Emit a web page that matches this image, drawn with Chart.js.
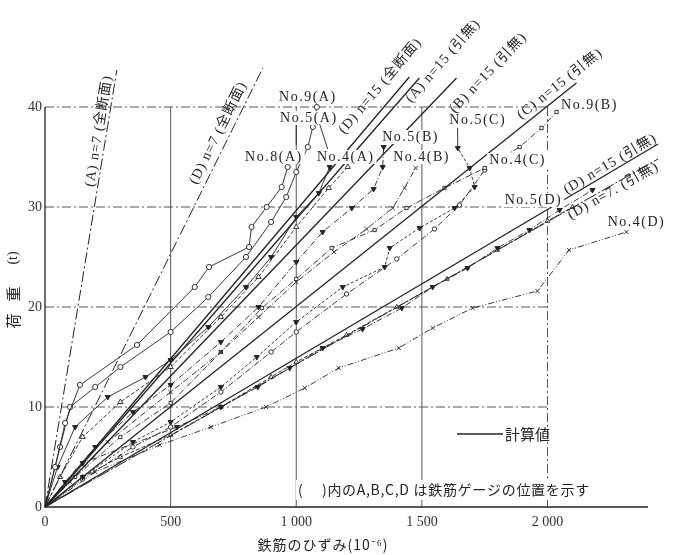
<!DOCTYPE html>
<html><head><meta charset="utf-8">
<script src="https://cdn.jsdelivr.net/npm/chart.js@4/dist/chart.umd.min.js"></script>
<style>html,body{margin:0;padding:0;background:#fff}</style>
</head><body>
<canvas id="c" width="674" height="555"></canvas>
<script>
// ---- axes ----
const xTicks = [0, 500, 1000, 1500, 2000];
const xTickLabels = ['0', '500', '1 000', '1 500', '2 000'];
const yTicks = [0, 10, 20, 30, 40];
const yTickLabels = ['0', '10', '20', '30', '40'];

// ---- calculated lines (strain 10^-6, load t) ----
const calcA7full = [[0,0],[286,43.7]];
const calcD7full = [[0,0],[867,43.9]];
const calcD15full = [[0,0],[1450,43.0]];
const calcA15none = [[0,0],[1490,42.9]];
const calcB15none = [[0,0],[1638,42.9]];
const calcC15none = [[0,0],[2115,42.4]];
const calcD15none = [[0,0],[2440,36.3]];
const calcD7none = [[0,0],[2440,34.8]];

// ---- measured series ----
const no8A = [[0,0],[40,4],[80,8.4],[139,12.2],[366,16.2],[596,22],[653,24],[812,26],[822,28],[882,30],[942,32],[966,34]];
const no9A = [[0,0],[60,6],[100,10],[200,12],[300,14],[500,17.5],[650,21],[800,25],[900,28.5],[960,31],[1000,33.5],[1046,36],[1066,38],[1082,40]];
const no5A = [[0,0],[50,4],[120,8],[250,11],[400,13],[500,14.7],[650,18],[800,22],[900,25],[1000,29],[1090,31.4],[1133,34]];
const no4A = [[0,0],[60,3],[150,7],[300,10.5],[500,14],[700,19],[850,23],[1000,28],[1129,31.9],[1205,34]];
const no5B = [[0,0],[80,2.5],[200,6],[350,9.5],[500,12.2],[700,16.5],[850,20],[1000,24.5],[1105,27.5],[1221,29.9],[1308,31.8],[1344,34],[1348,36]];
const no4B = [[0,0],[100,2.5],[250,6.5],[500,11.5],[700,15.5],[850,19],[1000,22.5],[1150,25.5],[1280,27.8],[1384,29.9],[1431,31.9],[1475,33.9]];
const no9B = [[0,0],[120,3],[300,7],[500,10.4],[700,15.5],[863,19.9],[1000,22.8],[1141,25.9],[1312,27.7],[1439,29.9],[1590,31.9],[1750,33.9],[1889,36],[1976,37.9],[2036,39.5]];
const no5C = [[0,0],[150,3],[350,6.5],[500,8.5],[700,12],[843,15],[1000,18.5],[1185,22],[1352,24],[1372,25.9],[1491,27.9],[1630,29.9],[1710,32],[1690,33.9],[1643,35.9]];
const no4C = [[0,0],[150,2.8],[350,6],[500,8],[700,11.5],[900,15.5],[1000,17.5],[1200,21.3],[1400,24.8],[1550,27.8],[1650,30.2],[1750,33.7]];
const no5D = [[0,0],[150,4.4],[525,8],[700,10],[847,12],[974,13.9],[1105,15.9],[1264,17.8],[1420,19.9],[1543,22],[1682,23.9],[1801,25.9],[1928,27.7],[2048,29.7],[2179,31.7]];
const seriesD2 = [[0,0],[150,3],[300,5],[500,7.2],[700,10],[900,13],[1000,14.5],[1200,17.2],[1400,20],[1600,22.8],[1800,25.7],[2000,28.6],[2100,30]];
const no4D = [[0,0],[200,3.5],[457,6.2],[660,8],[880,10],[1034,11.9],[1169,13.9],[1408,15.9],[1543,17.9],[1702,19.9],[1960,21.6],[2086,25.7],[2314,27.5]];

const INK = '#222';
function calc(data, dash){
  return {data, borderColor: INK, borderWidth: dash ? 1.0 : 1.3, borderDash: dash || [],
    pointRadius: 0, clip: false, order: 1};
}
function meas(data, style, filled, rot, dash, r){
  return {data, borderColor: INK, borderWidth: 0.9, borderDash: dash,
    pointStyle: style, pointRotation: rot, pointBorderColor: INK, pointBorderWidth: 0.9,
    pointBackgroundColor: filled ? INK : '#fff',
    pointRadius: (ctx) => ctx.dataIndex === 0 ? 0 : r, order: 2};
}
const DD = [6,2,1,2];
const CD = [11,3,2,3];

const datasets = [
  calc(calcA7full, CD), calc(calcD7full, CD), calc(calcD15full), calc(calcA15none),
  calc(calcB15none), calc(calcC15none), calc(calcD15none), calc(calcD7none, [14,2,2,2]),
  meas(no8A, 'circle', false, 0, [], 2.6),
  meas(no9A, 'circle', false, 0, [], 2.6),
  meas(no5A, 'triangle', true, 180, [], 3),
  meas(no4A, 'triangle', false, 0, [4,2], 3),
  meas(no5B, 'triangle', true, 180, DD, 3),
  meas(no4B, 'crossRot', false, 0, DD, 3),
  meas(no9B, 'rect', false, 0, DD, 2.3),
  meas(no5C, 'triangle', true, 180, [3,2], 3),
  meas(no4C, 'circle', false, 0, DD, 2.2),
  meas(no5D, 'triangle', true, 180, DD, 3),
  meas(seriesD2, 'triangle', false, 0, [4,2], 2.6),
  meas(no4D, 'crossRot', false, 0, [6,2,1,2,1,2], 3)
];

// labels for calculated lines: [text, line, centre x, centre y]
const calcLabels = [
  ['(A) n=7 (全断面)', calcA7full, 215, 37.6],
  ['(D) n=7 (全断面)', calcD7full, 690, 37.4],
  ['(D) n=15 (全断面)', calcD15full, 1335, 42.1],
  ['(A) n=15 (引無)', calcA15none, 1585, 44.6],
  ['(B) n=15 (引無)', calcB15none, 1765, 43.4],
  ['(C) n=15 (引無)', calcC15none, 2050, 42.3],
  ['(D) n=15 (引無)', calcD15none, 2250, 34.3],
  ['(D) n=7. (引無)', calcD7none, 2262, 31.6]
];
const seriesLabels = [
  ['No.9(A)', 1046, 41.0], ['No.5(A)', 1050, 38.9], ['No.8(A)', 911, 35.0],
  ['No.4(A)', 1197, 35.0], ['No.5(B)', 1455, 37.0], ['No.4(B)', 1499, 35.0],
  ['No.5(C)', 1722, 38.7], ['No.4(C)', 1881, 34.7], ['No.9(B)', 2167, 40.2],
  ['No.5(D)', 1944, 30.7], ['No.4(D)', 2354, 28.5]
];
const leaders = [
  [[1093,38.3],[1125,35.8]], [[1642,37.9],[1643,35.9]], [[1000,38.2],[1000,36.2]]
];

const SERIF = "'Liberation Serif','DejaVu Serif','Noto Sans CJK JP',serif";
const CJK = "'Noto Sans CJK JP','Liberation Serif',sans-serif";

const decor = {
  id: 'decor',
  beforeDatasetsDraw(chart){
    const {ctx, scales:{x, y}} = chart;
    ctx.save();
    ctx.strokeStyle = '#444';
    ctx.lineWidth = 0.9;
    ctx.setLineDash([9,3,2,3]);
    yTicks.slice(1).forEach(v => {
      ctx.beginPath(); ctx.moveTo(x.getPixelForValue(0), y.getPixelForValue(v));
      ctx.lineTo(x.getPixelForValue(2000), y.getPixelForValue(v)); ctx.stroke();
    });
    xTicks.slice(1).forEach(v => {
      ctx.setLineDash(v === 2000 ? [9,3,2,3] : []);
      ctx.beginPath(); ctx.moveTo(x.getPixelForValue(v), y.getPixelForValue(0));
      ctx.lineTo(x.getPixelForValue(v), y.getPixelForValue(40)); ctx.stroke();
    });
    ctx.setLineDash([]);
    ctx.strokeStyle = INK; ctx.lineWidth = 1.3;
    ctx.beginPath(); ctx.moveTo(x.getPixelForValue(0), y.getPixelForValue(40));
    ctx.lineTo(x.getPixelForValue(0), y.getPixelForValue(0));
    ctx.lineTo(x.getPixelForValue(2400), y.getPixelForValue(0)); ctx.stroke();
    ctx.restore();
  },
  afterDatasetsDraw(chart){
    const {ctx, scales:{x, y}} = chart;
    const P = (p) => [x.getPixelForValue(p[0]), y.getPixelForValue(p[1])];
    ctx.save();
    ctx.fillStyle = INK; ctx.strokeStyle = INK;
    ctx.textAlign = 'center'; ctx.textBaseline = 'middle';
    ctx.font = '14px ' + SERIF;
    ctx.letterSpacing = '1px';
    calcLabels.forEach(([t, line, cx, cy]) => {
      const a = P(line[0]), b = P(line[line.length-1]);
      const ang = Math.atan2(b[1]-a[1], b[0]-a[0]);
      const c = P([cx, cy]);
      ctx.save(); ctx.translate(c[0], c[1]); ctx.rotate(ang);
      ctx.fillText(t, 0, 0); ctx.restore();
    });
    ctx.font = '14px ' + SERIF;
    ctx.letterSpacing = '1.5px';
    seriesLabels.forEach(([t, dx, dy]) => {
      const c = P([dx, dy]);
      const w = ctx.measureText(t).width + 4;
      ctx.fillStyle = '#fff'; ctx.fillRect(c[0]-w/2, c[1]-7, w, 14);
      ctx.fillStyle = INK; ctx.fillText(t, c[0], c[1]);
    });
    ctx.letterSpacing = '0px';
    ctx.lineWidth = 0.9;
    leaders.forEach(([p1, p2]) => {
      const a = P(p1), b = P(p2);
      ctx.beginPath(); ctx.moveTo(a[0], a[1]); ctx.lineTo(b[0], b[1]); ctx.stroke();
    });
    ctx.lineWidth = 1.6;
    ctx.beginPath(); ctx.moveTo(457, 434); ctx.lineTo(503, 434); ctx.stroke();
    ctx.textAlign = 'left';
    ctx.font = '15px ' + CJK;
    ctx.fillText('計算値', 505, 434);
    ctx.font = '14px ' + CJK;
    const note = '(　 )内のA,B,C,D は鉄筋ゲージの位置を示す';
    const nw = ctx.measureText(note).width;
    const target = 292;
    ctx.letterSpacing = ((target - nw) / note.length).toFixed(2) + 'px';
    ctx.fillStyle = '#fff'; ctx.fillRect(296, 480, target + 4, 20);
    ctx.fillStyle = INK;
    ctx.fillText(note, 298, 490);
    ctx.letterSpacing = '0px';
    ctx.textAlign = 'center';
    ctx.font = '14px ' + CJK;
    ctx.letterSpacing = '1px';
    ctx.fillText('鉄筋のひずみ(10⁻⁶)', 323, 545);
    ctx.letterSpacing = '0px';
    ctx.save(); ctx.translate(13, 0); ctx.rotate(-Math.PI/2);
    ctx.font = '15px ' + CJK;
    ctx.fillText('荷', -321, 0);
    ctx.fillText('重', -294, 0);
    ctx.font = '14px ' + SERIF;
    ctx.fillText('(t)', -258, 0);
    ctx.restore();
    ctx.restore();
  }
};

new Chart(document.getElementById('c'), {
  type: 'line',
  data: { datasets },
  options: {
    responsive: false, animation: false,
    layout: { padding: { top: 62, right: 26, left: 0, bottom: 0 } },
    plugins: { legend: { display: false }, tooltip: { enabled: false } },
    elements: { line: { tension: 0, fill: false } },
    scales: {
      x: {
        type: 'linear', min: 0, max: 2400,
        afterBuildTicks: (s) => { s.ticks = xTicks.map(v => ({value: v})); },
        afterFit: (s) => { s.height = 48; },
        grid: { display: false, drawTicks: false }, border: { display: false },
        ticks: { padding: 7, color: '#333', font: { family: SERIF, size: 14 },
          callback: (v) => xTickLabels[xTicks.indexOf(v)], maxRotation: 0, autoSkip: false }
      },
      y: {
        type: 'linear', min: 0, max: 44.5,
        afterBuildTicks: (s) => { s.ticks = yTicks.map(v => ({value: v})); },
        afterFit: (s) => { s.width = 45; },
        grid: { display: false, drawTicks: false }, border: { display: false },
        ticks: { padding: 3, color: '#333', font: { family: SERIF, size: 14 },
          callback: (v) => yTickLabels[yTicks.indexOf(v)], autoSkip: false }
      }
    }
  },
  plugins: [decor]
});
</script>
</body></html>
